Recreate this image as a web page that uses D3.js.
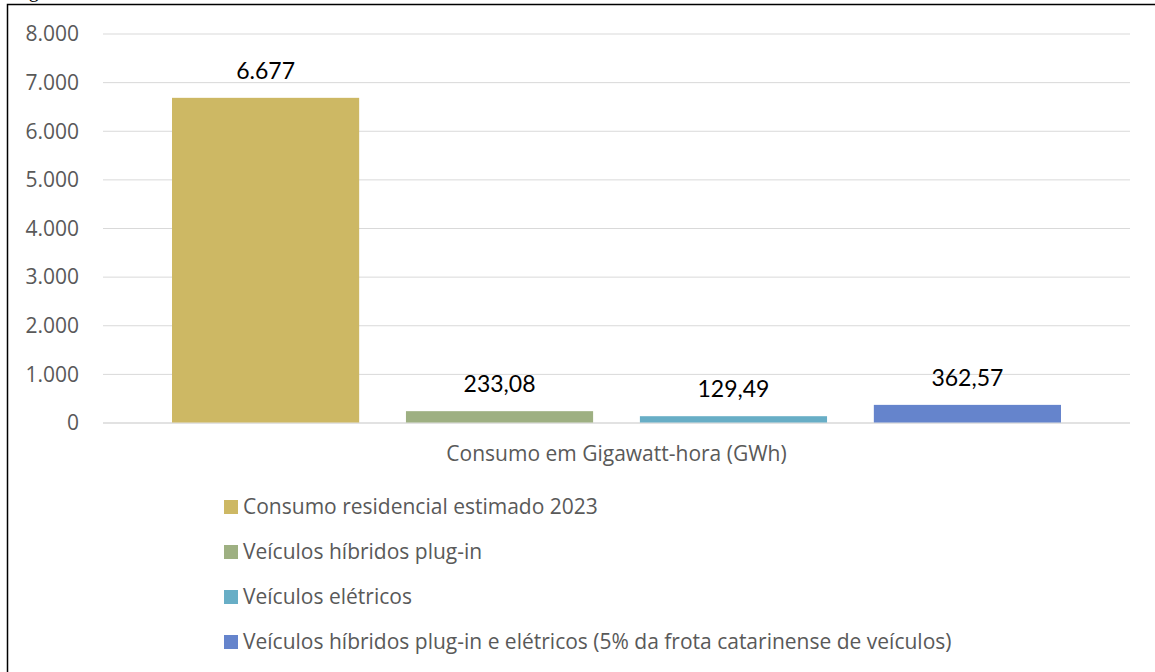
<!DOCTYPE html>
<html>
<head>
<meta charset="utf-8">
<script src="https://cdn.jsdelivr.net/npm/d3@7"></script>
<style>
  html, body { margin: 0; padding: 0; background: #fff; }
  svg { display: block; }
</style>
</head>
<body>
<svg id="chart" width="1155" height="672"></svg>
<script>
// Série única de categoria, quatro séries de barras
const category = "Consumo em Gigawatt-hora (GWh)";
const seriesNames = [
  "Consumo residencial estimado 2023",
  "Veículos híbridos plug-in",
  "Veículos elétricos",
  "Veículos híbridos plug-in e elétricos (5% da frota catarinense de veículos)"
];
const seriesValues = [6677, 233.08, 129.49, 362.57];
const seriesColors = ["#CDB864", "#9EB082", "#68AEC6", "#6584CC"];
const yTickValues = [0, 1000, 2000, 3000, 4000, 5000, 6000, 7000, 8000];

const ptBR = d3.formatLocale({ decimal: ",", thousands: ".", grouping: [3], currency: ["R$", ""] });
const fmtInt = ptBR.format(",d");
const fmtDec = ptBR.format(",.2f");
const fmtValue = v => Number.isInteger(v) ? fmtInt(v) : fmtDec(v);

const svg = d3.select("#chart");

// Moldura da figura
svg.append("rect")
  .attr("x", 7.5).attr("y", 4.5)
  .attr("width", 1200).attr("height", 700)
  .attr("fill", "none").attr("stroke", "#000").attr("stroke-width", 1.5);

// Resto da legenda da figura acima
svg.append("text")
  .attr("x", 12).attr("y", -3)
  .attr("font-family", "Liberation Serif, serif")
  .attr("font-size", 20)
  .attr("fill", "#000")
  .text("Figura");

const plotLeft = 103, plotRight = 1130, plotTop = 33.5, plotBottom = 422.5;

const y = d3.scaleLinear().domain([0, 8000]).range([plotBottom, plotTop]);
const x = d3.scaleBand()
  .domain(seriesNames)
  .range([plotLeft, plotRight])
  .paddingInner(0.2)
  .paddingOuter(0.295);

// Linhas de grade e rótulos do eixo Y
const yAxis = d3.axisLeft(y)
  .tickValues(yTickValues)
  .tickFormat(fmtInt)
  .tickSize(-(plotRight - plotLeft))
  .tickPadding(24);

const gy = svg.append("g")
  .attr("transform", `translate(${plotLeft},0)`)
  .call(yAxis);
gy.select(".domain").remove();
gy.selectAll(".tick line")
  .attr("stroke", "#D9D9D9")
  .attr("stroke-width", d => d === 0 ? 1.5 : 1);
gy.selectAll(".tick text")
  .attr("fill", "#595959")
  .attr("font-family", "Open Sans, sans-serif")
  .attr("font-size", 21)
  .attr("dy", "0.35em");

// Barras
svg.append("g").selectAll("rect")
  .data(seriesNames)
  .join("rect")
  .attr("x", d => x(d))
  .attr("width", x.bandwidth())
  .attr("y", (d, i) => y(seriesValues[i]))
  .attr("height", (d, i) => y(0) - y(seriesValues[i]))
  .attr("fill", (d, i) => seriesColors[i]);

// Rótulos de valor
svg.append("g").selectAll("text")
  .data(seriesNames)
  .join("text")
  .attr("x", d => x(d) + x.bandwidth() / 2)
  .attr("y", (d, i) => y(seriesValues[i]) - 19)
  .attr("text-anchor", "middle")
  .attr("font-family", "Lato, sans-serif")
  .attr("font-size", 23)
  .attr("fill", "#000")
  .text((d, i) => fmtValue(seriesValues[i]));

// Rótulo da categoria
svg.append("text")
  .attr("x", (plotLeft + plotRight) / 2)
  .attr("y", 461)
  .attr("text-anchor", "middle")
  .attr("font-family", "Open Sans, sans-serif")
  .attr("font-size", 21)
  .attr("fill", "#595959")
  .text(category);

// Legenda
const legend = svg.append("g");
const rows = legend.selectAll("g")
  .data(seriesNames)
  .join("g")
  .attr("transform", (d, i) => `translate(224, ${500 + i * 45})`);
rows.append("rect")
  .attr("width", 14).attr("height", 14)
  .attr("fill", (d, i) => seriesColors[i]);
rows.append("text")
  .attr("x", 19).attr("y", 7)
  .attr("dy", "0.35em")
  .attr("font-family", "Open Sans, sans-serif")
  .attr("font-size", 21)
  .attr("fill", "#595959")
  .text(d => d);
</script>
</body>
</html>
